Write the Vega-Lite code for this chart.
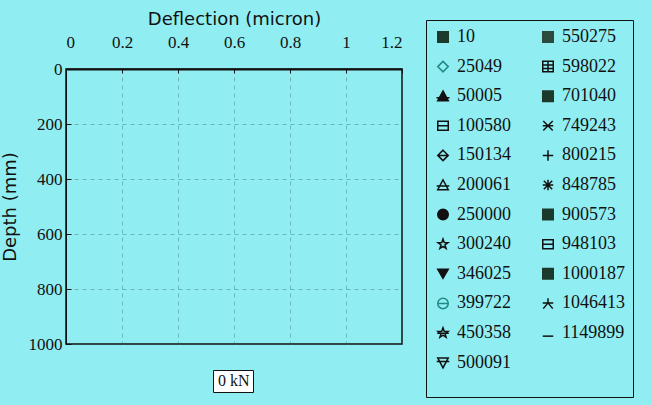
{
  "$schema": "https://vega.github.io/schema/vega-lite/v6.json",
  "width": 336,
  "height": 275,
  "autosize": {"type": "none"},
  "padding": {"left": 66, "top": 69, "right": 250, "bottom": 61},
  "background": "#90eef2",
  "config": {
    "view": {"stroke": "#111111", "strokeWidth": 1.5, "fill": "#90eef2"},
    "axis": {
      "labelFont": "Liberation Serif",
      "labelFontSize": 17,
      "labelColor": "#111111",
      "titleFont": "DejaVu Sans",
      "titleFontSize": 18,
      "titleFontWeight": "normal",
      "titleColor": "#111111",
      "grid": true,
      "gridColor": "#2f5f5f",
      "gridDash": [4, 4],
      "gridOpacity": 0.4,
      "gridWidth": 1,
      "domainColor": "#111111",
      "tickColor": "#111111"
    }
  },
  "data": {
    "values": [
      {"series": "10", "load": "0 kN"},
      {"series": "25049", "load": "0 kN"},
      {"series": "50005", "load": "0 kN"},
      {"series": "100580", "load": "0 kN"},
      {"series": "150134", "load": "0 kN"},
      {"series": "200061", "load": "0 kN"},
      {"series": "250000", "load": "0 kN"},
      {"series": "300240", "load": "0 kN"},
      {"series": "346025", "load": "0 kN"},
      {"series": "399722", "load": "0 kN"},
      {"series": "450358", "load": "0 kN"},
      {"series": "500091", "load": "0 kN"},
      {"series": "550275", "load": "0 kN"},
      {"series": "598022", "load": "0 kN"},
      {"series": "701040", "load": "0 kN"},
      {"series": "749243", "load": "0 kN"},
      {"series": "800215", "load": "0 kN"},
      {"series": "848785", "load": "0 kN"},
      {"series": "900573", "load": "0 kN"},
      {"series": "948103", "load": "0 kN"},
      {"series": "1000187", "load": "0 kN"},
      {"series": "1046413", "load": "0 kN"},
      {"series": "1149899", "load": "0 kN"}
    ]
  },
  "mark": {"type": "point", "size": 110, "strokeWidth": 1.5, "opacity": 1},
  "encoding": {
    "x": {
      "field": "deflection",
      "type": "quantitative",
      "scale": {"domain": [0, 1.2], "nice": false, "zero": false},
      "axis": {
        "orient": "top",
        "title": "Deflection (micron)",
        "values": [0, 0.2, 0.4, 0.6, 0.8, 1, 1.2],
        "format": "~g",
        "ticks": true,
        "tickSize": -4,
        "labelPadding": 22,
        "titlePadding": 5,
        "domain": true,
        "domainWidth": 2
      }
    },
    "y": {
      "field": "depth",
      "type": "quantitative",
      "scale": {"domain": [0, 1000], "reverse": true, "nice": false, "zero": false},
      "axis": {
        "title": "Depth (mm)",
        "values": [0, 200, 400, 600, 800, 1000],
        "format": "d",
        "ticks": true,
        "tickSize": -5,
        "labelPadding": 9,
        "titlePadding": 9,
        "domainWidth": 1
      }
    },
    "shape": {
      "field": "series",
      "type": "nominal",
      "scale": {
        "domain": ["10", "25049", "50005", "100580", "150134", "200061", "250000", "300240", "346025", "399722", "450358", "500091", "550275", "598022", "701040", "749243", "800215", "848785", "900573", "948103", "1000187", "1046413", "1149899"],
        "range": [
          "square",
          "diamond",
          "M0,-1L1,0.85H-1Z M-1.25,0.3H1.25",
          "M-1,-0.85H1V0.85H-1Z M-1,0H1",
          "M0,-1L1,0L0,1L-1,0Z M-1,0H1",
          "M0,-1L1,0.9H-1Z M-1.2,0.2H1.2",
          "circle",
          "M0,-1L0.235,-0.324L0.951,-0.309L0.38,0.124L0.588,0.809L0,0.4L-0.588,0.809L-0.38,0.124L-0.951,-0.309L-0.235,-0.324Z",
          "triangle-down",
          "M-1,0A1,1,0,1,1,1,0A1,1,0,1,1,-1,0Z M-1,0H1",
          "M0,-1L0.235,-0.324L0.951,-0.309L0.38,0.124L0.588,0.809L0,0.4L-0.588,0.809L-0.38,0.124L-0.951,-0.309L-0.235,-0.324Z M-1.1,0.05H1.1",
          "M-1,-0.9H1L0,1Z M-1.2,-0.2H1.2",
          "square",
          "M-1,-1H1V1H-1Z M-1,-0.3H1 M-1,0.35H1 M0,-1V1",
          "square",
          "M-0.9,-0.9L0.9,0.9 M-0.9,0.9L0.9,-0.9 M-1,0H1",
          "M-1,0H1 M0,-1V1",
          "M-0.8,-0.8L0.8,0.8 M-0.8,0.8L0.8,-0.8 M-1,0H1 M0,-1V1",
          "square",
          "M-1,-0.85H1V0.85H-1Z M-1,0H1",
          "square",
          "M0,-1V-0.1 M-1,-0.1H1 M0,-0.1L-0.9,1 M0,-0.1L0.9,1",
          "M-1,0.6H1"
        ]
      },
      "legend": {
        "orient": "none",
        "legendX": 360,
        "legendY": -49,
        "direction": "vertical",
        "columns": 2,
        "columnPadding": 28,
        "rowPadding": 11.6,
        "padding": 8,
        "strokeColor": "#111111",
        "fillColor": "#90eef2",
        "symbolSize": 110,
        "symbolStrokeWidth": 1.5,
        "symbolOpacity": 1,
        "labelFont": "Liberation Serif",
        "labelFontSize": 18,
        "labelColor": "#111111",
        "labelOffset": 5,
        "labelLimit": 200,
        "title": "\u2003\u2003\u2003\u2003\u2003\u2003\u2003\u2003\u2003\u2003\u2003\u2003\u2003\u2003\u2003\u2003\u2003\u2003\u2003",
        "titleOrient": "bottom",
        "titleFont": "DejaVu Sans",
        "titleFontSize": 11,
        "titlePadding": 6,
        "titleLimit": 400,
        "encode": {"legend": {"update": {"strokeWidth": {"value": 1.5}}}}
      }
    },
    "fill": {
      "field": "series",
      "type": "nominal",
      "scale": {
        "domain": ["10", "25049", "50005", "100580", "150134", "200061", "250000", "300240", "346025", "399722", "450358", "500091", "550275", "598022", "701040", "749243", "800215", "848785", "900573", "948103", "1000187", "1046413", "1149899"],
        "range": ["#1c3a2c", "transparent", "#111111", "transparent", "transparent", "transparent", "#111111", "transparent", "#111111", "transparent", "transparent", "transparent", "#2d4a3e", "transparent", "#1c3a2c", "transparent", "transparent", "transparent", "#1c3a2c", "transparent", "#1c3a2c", "transparent", "transparent"]
      }
    },
    "stroke": {
      "field": "series",
      "type": "nominal",
      "scale": {
        "domain": ["10", "25049", "50005", "100580", "150134", "200061", "250000", "300240", "346025", "399722", "450358", "500091", "550275", "598022", "701040", "749243", "800215", "848785", "900573", "948103", "1000187", "1046413", "1149899"],
        "range": ["#1c3a2c", "#1f8a84", "#111111", "#111111", "#111111", "#111111", "#111111", "#111111", "#111111", "#1f8a84", "#111111", "#111111", "#2d4a3e", "#111111", "#1c3a2c", "#111111", "#111111", "#111111", "#1c3a2c", "#111111", "#1c3a2c", "#111111", "#111111"]
      }
    },
    "strokeDash": {
      "field": "load",
      "type": "nominal",
      "scale": {"domain": ["0 kN"], "range": [[1, 0]]},
      "legend": {
        "orient": "none",
        "legendX": 147,
        "legendY": 301,
        "title": null,
        "padding": 3,
        "strokeColor": "#111111",
        "fillColor": "#ffffff",
        "symbolSize": 0.01,
        "symbolStrokeWidth": 0,
        "symbolOpacity": 0,
        "labelOffset": -14,
        "labelFont": "Liberation Serif",
        "labelFontSize": 16,
        "labelColor": "#111111",
        "encode": {"legend": {"update": {"strokeWidth": {"value": 1.5}}}}
      }
    }
  }
}
